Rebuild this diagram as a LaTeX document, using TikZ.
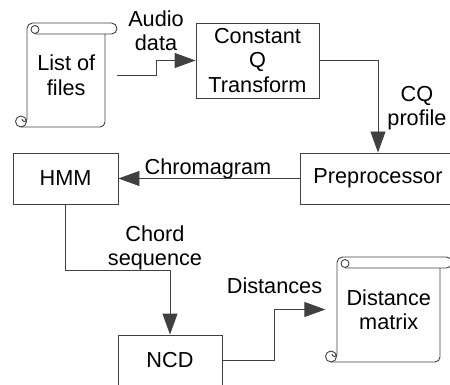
\documentclass[tikz,border=0pt]{standalone}
\usepackage{fontspec}
\setmainfont{Liberation Sans}
\usetikzlibrary{arrows.meta}
\newcommand\scrollshp[4]{% xl, xr, yt, yb
  \draw[scrl, rounded corners=5.5pt] (#1,#4-8) -- (#1,#3) -- (#2+12,#3) -- (#2+12,#3+11) -- (#1+8,#3+11);
  \draw[scrl] (#1+8,#3+6.5) circle[radius=4pt];
  \draw[scrl, rounded corners=5pt] (#2,#3+11) -- (#2,#4) -- (#1-6,#4);
  \draw[scrl] (#1-6,#4-5.5) circle[radius=5.5pt];
  \draw[scrl] (#1,#4-8) arc[start angle=0,end angle=-180,radius=2.5pt];
}
\begin{document}
\begin{tikzpicture}[x=1pt,y=-1pt,
  every node/.style={font=\fontsize{21.7}{24.5}\selectfont, inner sep=0pt, align=center},
  box/.style={draw=black!75, line width=0.9pt, rectangle},
  scrl/.style={draw=black!75, line width=0.9pt},
  arr/.style={draw=black!75, line width=0.9pt, -{Triangle[length=21pt,width=15pt]}},
  lbl/.style={}]
\useasboundingbox (0,0) rectangle (450,385);
\clip (0,0) rectangle (450,385);
% scrolls
\scrollshp{27}{105}{23}{127}
\scrollshp{337}{440}{257}{362}
\node[minimum width=101.5pt, minimum height=104pt] (lof) at (66.25,75) {List of\\files};
\node[minimum width=126.5pt, minimum height=105pt] (dm) at (388.75,309.5) {Distance\\matrix};
% boxes
\node[box, minimum width=123pt, minimum height=75pt] (cqt) at (257.5,60.5) {Constant\\Q\\Transform};
\node[box, minimum width=156pt, minimum height=51pt] (prep) at (378,178.5) {Preprocessor};
\node[box, minimum width=105pt, minimum height=51pt] (hmm) at (65.5,178.5) {HMM};
\node[box, minimum width=104pt, minimum height=51pt] (ncd) at (170,360.5) {NCD};
% labels
\node[lbl] (laudio) at (156,30.7) {Audio\\data};
\node[lbl] (lcq) at (417,108) {CQ\\profile};
\node[lbl, anchor=base] (lchroma) at (208,175) {Chromagram};
\node[lbl] (lchord) at (155,248) {Chord\\sequence};
\node[lbl, anchor=base] (ldist) at (274.5,293) {Distances};
% connectors
\draw[arr] (lof.east) -- ++(39.5,0) |- (cqt.west);
\draw[arr] (cqt.east) -| (prep.north);
\draw[arr] (prep.west) -- (hmm.east);
\draw[arr] (hmm.south) -- ++(0,65.5) -| (ncd.north);
\draw[arr] (ncd.east) -- ++(51.5,0) |- (dm.west);
\end{tikzpicture}
\end{document}
